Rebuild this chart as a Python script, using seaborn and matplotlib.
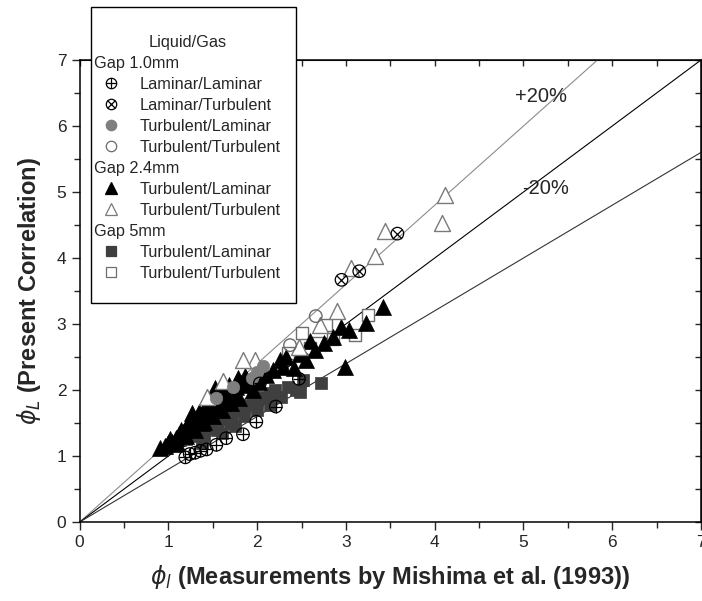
import matplotlib
matplotlib.use("Agg")
import matplotlib.pyplot as plt
import seaborn as sns
from matplotlib.lines import Line2D
from matplotlib.patches import Rectangle
from matplotlib.ticker import MultipleLocator

# Gap 1.0mm
lam_lam_x = [1.19, 1.24, 1.30, 1.36, 1.43, 1.54, 1.65, 1.84, 1.99, 2.21, 2.03, 2.47]
lam_lam_y = [0.98, 1.03, 1.05, 1.08, 1.10, 1.17, 1.27, 1.33, 1.52, 1.75, 2.10, 2.17]
lam_tur_x = [2.95, 3.15, 3.58]
lam_tur_y = [3.67, 3.80, 4.37]
g1_tl_x = [2.07, 1.94, 1.73, 1.54, 2.00]
g1_tl_y = [2.36, 2.18, 2.05, 1.88, 2.28]
g1_tt_x = [2.66, 2.37]
g1_tt_y = [3.12, 2.68]

# Gap 2.4mm
g24_tl_x = [0.91, 0.96, 1.00, 1.04, 1.08, 1.12, 1.16, 1.20, 1.24, 1.28, 1.32, 1.36,
            1.40, 1.45, 1.50, 1.55, 1.60, 1.65, 1.70, 1.76, 1.82, 1.88, 1.52, 1.26,
            1.10, 1.20, 1.30, 1.40, 1.50, 1.60, 1.70, 1.80, 1.95, 2.02, 2.10, 2.18,
            2.26, 2.29, 2.33, 2.41, 2.48, 2.55, 2.65, 2.75, 2.85, 3.04, 3.23, 3.42,
            2.99, 2.60, 2.95, 1.02, 1.14, 1.22, 1.34, 1.44, 1.58, 1.68, 1.78, 1.86,
            1.92, 1.06, 1.18, 1.38, 1.48, 1.62, 1.74]
g24_tl_y = [1.12, 1.15, 1.20, 1.22, 1.28, 1.33, 1.37, 1.42, 1.47, 1.52, 1.58, 1.62,
            1.68, 1.72, 1.78, 1.82, 1.88, 1.93, 1.98, 2.05, 2.10, 2.08, 2.03, 1.65,
            1.20, 1.30, 1.40, 1.52, 1.60, 1.70, 1.80, 1.88, 2.00, 2.12, 2.23, 2.30,
            2.45, 2.35, 2.50, 2.33, 2.55, 2.45, 2.60, 2.72, 2.81, 2.91, 3.01, 3.26,
            2.35, 2.75, 2.95, 1.26, 1.40, 1.50, 1.66, 1.80, 1.98, 2.08, 2.18, 2.22,
            2.14, 1.18, 1.34, 1.50, 1.62, 1.80, 1.92]
g24_tt_x = [4.12, 4.08, 3.44, 3.33, 3.06, 2.90, 2.47, 1.97, 1.84, 1.61, 1.43, 2.71]
g24_tt_y = [4.95, 4.53, 4.41, 4.03, 3.85, 3.19, 2.65, 2.45, 2.45, 2.14, 1.90, 2.98]

# Gap 5mm
g5_tl_x = [1.13, 1.20, 1.25, 1.30, 1.35, 1.40, 1.45, 1.50, 1.55, 1.60, 1.65, 1.70,
           1.75, 1.80, 1.85, 1.90, 1.95, 2.00, 2.05, 2.10, 2.15, 2.20, 2.27, 2.35,
           2.44, 2.48, 2.52, 2.72, 1.40, 1.55, 1.70, 1.85, 2.00, 2.15, 1.25, 1.45,
           1.65, 1.38, 1.60, 1.75]
g5_tl_y = [1.24, 1.26, 1.30, 1.32, 1.36, 1.40, 1.42, 1.46, 1.50, 1.55, 1.60, 1.62,
           1.68, 1.70, 1.75, 1.78, 1.82, 1.85, 1.90, 1.88, 1.95, 2.00, 1.90, 2.05,
           2.00, 1.97, 2.15, 2.11, 1.30, 1.40, 1.50, 1.60, 1.70, 1.78, 1.40, 1.55,
           1.75, 1.20, 1.35, 1.45]
g5_tt_x = [3.25, 2.78, 3.10, 2.85, 2.69, 2.50, 2.59, 2.35]
g5_tt_y = [3.14, 2.98, 2.83, 2.77, 2.71, 2.86, 2.63, 2.56]

ref_x = [0, 7]

sns.set_style("ticks")
plt.rcParams['font.family'] = ['Liberation Sans', 'DejaVu Sans']

fig = plt.figure(figsize=(7.02, 6.01), dpi=100)
ax = fig.add_axes([0.1135, 0.1314, 0.885, 0.7687])

# reference lines: exact, +20%, -20%
ax.plot(ref_x, [v * 1.2 for v in ref_x], color="#8c8c8c", lw=0.8, zorder=1)
ax.plot(ref_x, ref_x, color="black", lw=0.8, zorder=1)
ax.plot(ref_x, [v * 0.8 for v in ref_x], color="#333333", lw=0.8, zorder=1)

ms = 9.0
tri = 11.5
# Gap 5mm
sns.scatterplot(x=g5_tl_x, y=g5_tl_y, marker="s", s=ms**2, color="#3f3f3f", edgecolor="#3f3f3f", linewidth=0.5, ax=ax, zorder=3)
sns.scatterplot(x=g5_tt_x, y=g5_tt_y, marker="s", s=ms**2, color="white", edgecolor="#6e6e6e", linewidth=1.0, ax=ax, zorder=3)
# Gap 2.4mm
sns.scatterplot(x=g24_tl_x, y=g24_tl_y, marker="^", s=tri**2, color="black", edgecolor="black", linewidth=0.5, ax=ax, zorder=4)
sns.scatterplot(x=g24_tt_x, y=g24_tt_y, marker="^", s=tri**2, color="white", edgecolor="#7a7a7a", linewidth=1.0, ax=ax, zorder=4)
# Gap 1.0mm
sns.scatterplot(x=g1_tl_x, y=g1_tl_y, marker="o", s=ms**2, color="#7f7f7f", edgecolor="#7f7f7f", linewidth=0.5, ax=ax, zorder=5)
sns.scatterplot(x=g1_tt_x, y=g1_tt_y, marker="o", s=ms**2, color="none", edgecolor="#6a6a6a", linewidth=1.0, ax=ax, zorder=5)
sns.scatterplot(x=lam_lam_x, y=lam_lam_y, marker="o", s=ms**2, color="none", edgecolor="black", linewidth=0.9, ax=ax, zorder=6)
sns.scatterplot(x=lam_lam_x, y=lam_lam_y, marker="+", s=ms**2, color="black", linewidth=0.9, ax=ax, zorder=6)
sns.scatterplot(x=lam_tur_x, y=lam_tur_y, marker="o", s=ms**2, color="none", edgecolor="black", linewidth=0.9, ax=ax, zorder=6)
sns.scatterplot(x=lam_tur_x, y=lam_tur_y, marker="x", s=(ms * 0.72)**2, color="black", linewidth=0.9, ax=ax, zorder=6)

ax.text(4.91, 6.44, "+20%", fontsize=14.5, va="center", ha="left")
ax.text(4.99, 5.06, "-20%", fontsize=14.5, va="center", ha="left")

ax.set_xlim(0, 7)
ax.set_ylim(0, 7)
ax.xaxis.set_major_locator(MultipleLocator(1))
ax.yaxis.set_major_locator(MultipleLocator(1))
ax.xaxis.set_minor_locator(MultipleLocator(0.5))
ax.yaxis.set_minor_locator(MultipleLocator(0.5))
ax.tick_params(which="major", length=6, width=1.0, labelsize=12.5, direction="out")
ax.tick_params(which="minor", length=4, width=1.0, direction="out")
for sp in ax.spines.values():
    sp.set_linewidth(1.1)
    sp.set_color("black")

# inward ticks on top and right
top = ax.secondary_xaxis("top")
top.xaxis.set_major_locator(MultipleLocator(1))
top.xaxis.set_minor_locator(MultipleLocator(0.5))
top.tick_params(which="both", direction="in", labeltop=False, length=4, width=1.0)
right = ax.secondary_yaxis("right")
right.yaxis.set_major_locator(MultipleLocator(1))
right.yaxis.set_minor_locator(MultipleLocator(0.5))
right.tick_params(which="both", direction="in", labelright=False, length=4, width=1.0)

ax.set_xlabel(r"$\phi_l$ (Measurements by Mishima et al. (1993))", fontsize=17, fontweight="bold", labelpad=9)
ax.set_ylabel(r"$\phi_L$ (Present Correlation)", fontsize=17, fontweight="bold", labelpad=10)

# legend with group headers
blank = Line2D([], [], linestyle="none")
def mk(marker, fc, ec, size=7.5, lw=0.9):
    return Line2D([], [], linestyle="none", marker=marker, markersize=size,
                  markerfacecolor=fc, markeredgecolor=ec, markeredgewidth=lw)
h_ll = (mk("o", "none", "black"), mk("+", "black", "black"))
h_lt = (mk("o", "none", "black"), mk("x", "black", "black", size=5.4))
handles = [blank, h_ll, h_lt, mk("o", "#7f7f7f", "#7f7f7f"), mk("o", "none", "#6a6a6a"),
           blank, mk("^", "black", "black", 9), mk("^", "white", "#7a7a7a", 9),
           blank, mk("s", "#3f3f3f", "#3f3f3f"), mk("s", "white", "#6e6e6e")]
labels = ["Gap 1.0mm", "Laminar/Laminar", "Laminar/Turbulent", "Turbulent/Laminar", "Turbulent/Turbulent",
          "Gap 2.4mm", "Turbulent/Laminar", "Turbulent/Turbulent",
          "Gap 5mm", "Turbulent/Laminar", "Turbulent/Turbulent"]
headers = {"Gap 1.0mm", "Gap 2.4mm", "Gap 5mm"}
leg = fig.legend(handles, labels, title="Liquid/Gas", loc="upper left",
                 bbox_to_anchor=(94 / 702, 1 - 35 / 601), bbox_transform=fig.transFigure,
                 fontsize=11.7, title_fontsize=11.7, frameon=False, borderpad=0,
                 labelspacing=0.37, handlelength=2.1, handletextpad=0.7, borderaxespad=0)
for col in leg._legend_handle_box.get_children():
    for row in col.get_children():
        kids = row.get_children()
        if kids[-1].get_text() in headers:
            kids.pop(0)
            row.sep = 0
# legend frame as drawn in the original
fig.patches.append(Rectangle((91 / 702, 1 - 303 / 601), 205 / 702, 296 / 601,
                             transform=fig.transFigure, fill=True, facecolor="white",
                             edgecolor="black", linewidth=1.0, zorder=0))
leg.set_zorder(10)

fig.savefig("out.png", dpi=100)
